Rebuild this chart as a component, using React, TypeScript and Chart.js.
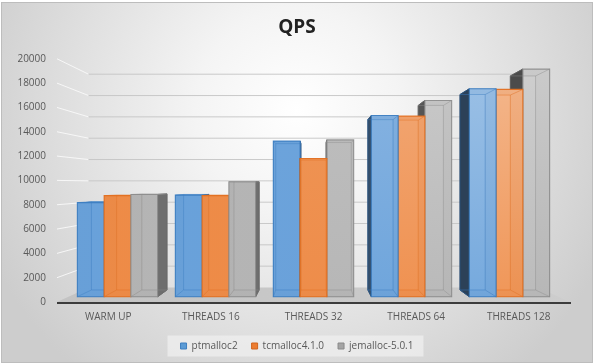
import React, { useEffect, useRef } from 'react';
import { Chart, registerables } from 'chart.js';

Chart.register(...registerables);

// ---------------- data ----------------
const categories = ['WARM UP', 'THREADS 16', 'THREADS 32', 'THREADS 64', 'THREADS 128'];
const seriesNames = ['ptmalloc2', 'tcmalloc4.1.0', 'jemalloc-5.0.1'];
const ptmalloc2 = [8100, 8750, 13400, 15600, 17900];
const tcmalloc = [8700, 8700, 11900, 15550, 17850];
const jemalloc = [8800, 9900, 13500, 16900, 19600];
const yTicks = [0, 2000, 4000, 6000, 8000, 10000, 12000, 14000, 16000, 18000, 20000];
const titleText = 'QPS';

// ---------------- styles ----------------
type RGB = [number, number, number];
const legendColors = ['#5B9BD5', '#ED7D31', '#A5A5A5'];
const legendBorders = ['#3f7fc0', '#d0651e', '#8a8a8a'];
const STYLES: { front: RGB; back: RGB; side: RGB; edge: RGB }[] = [
  { front: [108, 165, 222], back: [86, 138, 194], side: [62, 92, 124], edge: [58, 124, 192] },
  { front: [242, 143, 74], back: [212, 116, 54], side: [186, 96, 38], edge: [226, 110, 30] },
  { front: [184, 184, 184], back: [158, 158, 158], side: [110, 110, 110], edge: [140, 140, 140] },
];
const VX_FRAC = 0.5;
const VY_FRAC = 0.515;
const S_FRONT = 0.955;
const S_BACK = 0.898;
const S_WALL = 0.877;

const mix = (c: RGB, d: RGB, t: number): RGB =>
  [0, 1, 2].map((i) => Math.round(c[i] + (d[i] - c[i]) * t)) as RGB;
const rgba = (c: RGB, a = 1) => `rgba(${c[0]},${c[1]},${c[2]},${a})`;
const WHITE: RGB = [255, 255, 255];
const BLACK: RGB = [0, 0, 0];

type Pt = [number, number];
function poly(ctx: CanvasRenderingContext2D, pts: Pt[], fill?: string | CanvasGradient, stroke?: string, lw = 1) {
  ctx.beginPath();
  ctx.moveTo(pts[0][0], pts[0][1]);
  for (let i = 1; i < pts.length; i++) ctx.lineTo(pts[i][0], pts[i][1]);
  ctx.closePath();
  if (fill) {
    ctx.fillStyle = fill as any;
    ctx.fill();
  }
  if (stroke) {
    ctx.strokeStyle = stroke;
    ctx.lineWidth = lw;
    ctx.stroke();
  }
}
function line(ctx: CanvasRenderingContext2D, a: Pt, b: Pt, stroke: string, lw = 1) {
  ctx.beginPath();
  ctx.moveTo(a[0], a[1]);
  ctx.lineTo(b[0], b[1]);
  ctx.strokeStyle = stroke;
  ctx.lineWidth = lw;
  ctx.stroke();
}

const threeD = {
  id: 'threeD',
  beforeDraw(chart: any) {
    const ctx: CanvasRenderingContext2D = chart.ctx;
    const W = chart.width;
    const H = chart.height;
    const { left, right, top, bottom } = chart.chartArea;
    const VX = left + (right - left) * VX_FRAC;
    const VY = top + (bottom - top) * VY_FRAC;
    const P = (x: number, y: number, s: number): Pt => [VX + (x - VX) * s, VY + (y - VY) * s];
    ctx.save();
    // background
    ctx.fillStyle = '#ffffff';
    ctx.fillRect(0, 0, W, H);
    const g = ctx.createRadialGradient(W / 2, 110, 0, W / 2, 110, 340);
    g.addColorStop(0, '#ffffff');
    g.addColorStop(0.3, '#f4f4f4');
    g.addColorStop(1, '#cdcdcd');
    ctx.fillStyle = g;
    ctx.fillRect(2, 3, W - 4, H - 5);
    ctx.strokeStyle = '#bdbdbd';
    ctx.lineWidth = 1;
    ctx.strokeRect(1.5, 2.5, W - 3, H - 4);

    // gridlines (left wall + back wall)
    const ys = chart.scales.y;
    yTicks.forEach((v) => {
      if (v === 0) return;
      const yf = ys.getPixelForValue(v);
      const bl = P(left, yf, S_WALL);
      const br = P(right, yf, S_WALL);
      line(ctx, [left, yf], bl, 'rgba(250,250,250,0.9)', 1);
      line(ctx, bl, br, 'rgba(196,196,196,0.9)', 1);
    });

    // floor
    const fl: Pt = [left, bottom];
    const fr: Pt = [right, bottom];
    const bl = P(left, bottom, S_WALL);
    const br = P(right, bottom, S_WALL);
    const fg = ctx.createLinearGradient(left, 0, right, 0);
    fg.addColorStop(0, '#c3c3c3');
    fg.addColorStop(1, '#cdcdcd');
    poly(ctx, [fl, fr, br, bl], fg);
    line(ctx, [left, bottom + 1], [right + 1, bottom + 1], '#3c3c3c', 2);

    // legend background
    const lg = chart.legend;
    if (lg && lg.legendHitBoxes && lg.legendHitBoxes.length) {
      const hb = lg.legendHitBoxes;
      const x0 = hb[0].left - 13;
      const last = hb[hb.length - 1];
      const x1 = last.left + last.width + 10;
      const cy = hb[0].top + hb[0].height / 2;
      ctx.fillStyle = 'rgba(238,238,238,0.8)';
      ctx.fillRect(x0, cy - 10.5, x1 - x0, 21);
    }
    ctx.restore();
  },
  beforeDatasetsDraw(chart: any) {
    const ctx: CanvasRenderingContext2D = chart.ctx;
    const { left, right, top, bottom } = chart.chartArea;
    const VX = left + (right - left) * VX_FRAC;
    const VY = top + (bottom - top) * VY_FRAC;
    const P = (x: number, y: number, s: number): Pt => [VX + (x - VX) * s, VY + (y - VY) * s];
    const bars: any[] = [];
    chart.data.datasets.forEach((_ds: any, di: number) => {
      if (!chart.isDatasetVisible(di)) return;
      const meta = chart.getDatasetMeta(di);
      meta.data.forEach((el: any) => {
        const w = el.width;
        bars.push({ l: el.x - w / 2, r: el.x + w / 2, t: el.y, b: el.base, cx: el.x, di });
      });
    });
    bars.sort((a, b) => Math.abs(b.cx - VX) - Math.abs(a.cx - VX));
    ctx.save();
    ctx.lineJoin = 'miter';
    for (const bar of bars) {
      const st = STYLES[bar.di];
      const { l, r, t, b } = bar;
      const F = { lt: P(l, t, S_FRONT), rt: P(r, t, S_FRONT), rb: P(r, b, S_FRONT), lb: P(l, b, S_FRONT) };
      const B = { lt: P(l, t, S_BACK), rt: P(r, t, S_BACK), rb: P(r, b, S_BACK), lb: P(l, b, S_BACK) };
      const k = Math.max(0, Math.min(1, (bar.cx - VX + 40) / 240));
      const light = 0.38 * k;
      const leftOfV = bar.cx < VX;
      const leftSide: Pt[] = [F.lt, B.lt, B.lb, F.lb];
      const rightSide: Pt[] = [F.rt, B.rt, B.rb, F.rb];
      const topFace: Pt[] = [F.lt, F.rt, B.rt, B.lt];
      const botFace: Pt[] = [F.lb, F.rb, B.rb, B.lb];
      const innerCol = rgba(mix(st.back, BLACK, 0.08));
      // back & inner faces
      poly(ctx, [B.lt, B.rt, B.rb, B.lb], rgba(mix(st.back, WHITE, light * 0.5)));
      poly(ctx, leftOfV ? leftSide : rightSide, innerCol);
      poly(ctx, botFace, innerCol);
      const topOuter = t > VY;
      if (!topOuter) poly(ctx, topFace, innerCol);
      // outer faces
      const sideCol = mix(st.side, BLACK, 0.32 * k);
      poly(ctx, leftOfV ? rightSide : leftSide, rgba(sideCol), rgba(mix(sideCol, BLACK, 0.2)), 1);
      if (topOuter) poly(ctx, topFace, rgba(mix(st.front, WHITE, 0.15)));
      // front face (translucent)
      const fgr = ctx.createLinearGradient(0, F.lt[1], 0, F.lb[1]);
      fgr.addColorStop(0, rgba(mix(st.front, WHITE, light)));
      fgr.addColorStop(1, rgba(mix(st.front, WHITE, light * 0.2)));
      ctx.globalAlpha = 0.86;
      poly(ctx, [F.lt, F.rt, F.rb, F.lb], fgr);
      ctx.globalAlpha = 1;
      // edges
      const edgeSoft = rgba(st.edge, 0.45);
      poly(ctx, [B.lt, B.rt, B.rb, B.lb], undefined, edgeSoft, 1);
      line(ctx, F.lt, B.lt, edgeSoft);
      line(ctx, F.rt, B.rt, edgeSoft);
      line(ctx, F.lb, B.lb, edgeSoft);
      line(ctx, F.rb, B.rb, edgeSoft);
      poly(ctx, [F.lt, F.rt, F.rb, F.lb], undefined, rgba(st.edge, 0.9), 1.1);
    }
    ctx.restore();
    return false;
  },
};

export default function App() {
  const ref = useRef<HTMLCanvasElement>(null);
  useEffect(() => {
    if (!ref.current) return;
    const font = "'Open Sans', 'DejaVu Sans', sans-serif";
    const values = [ptmalloc2, tcmalloc, jemalloc];
    const chart = new Chart(ref.current, {
      type: 'bar',
      data: {
        labels: categories,
        datasets: seriesNames.map((name, i) => ({
          label: name,
          data: values[i],
          backgroundColor: legendColors[i],
          borderColor: legendBorders[i],
          borderWidth: 1,
          categoryPercentage: 0.82,
          barPercentage: 1.0,
        })),
      },
      options: {
        responsive: false,
        devicePixelRatio: 1,
        animation: false,
        events: [],
        layout: { padding: { left: 0, right: 0, top: 0, bottom: 3 } },
        scales: {
          x: {
            grid: { display: false, drawTicks: false },
            border: { display: false },
            ticks: { color: '#595959', font: { family: font, size: 10 }, padding: 9, maxRotation: 0, autoSkip: false },
            afterFit: (s: any) => {
              s.height = 25;
            },
          },
          y: {
            min: 0,
            max: 20000,
            grid: { display: false, drawTicks: false },
            border: { display: false },
            afterBuildTicks: (s: any) => {
              s.ticks = yTicks.map((v) => ({ value: v }));
            },
            ticks: {
              color: '#595959',
              font: { family: font, size: 10 },
              padding: 11,
              callback: (v: any) => String(v),
            },
            afterFit: (s: any) => {
              s.width = 57;
            },
          },
          y2: {
            position: 'right',
            display: true,
            grid: { display: false, drawTicks: false },
            border: { display: false },
            ticks: { display: false },
            afterFit: (s: any) => {
              s.width = 24;
            },
          },
        },
        plugins: {
          title: {
            display: true,
            text: titleText,
            color: '#222222',
            font: { family: font, size: 19, weight: 'bold', lineHeight: 1.2 },
            padding: { top: 16, bottom: 20 },
          },
          legend: {
            display: true,
            position: 'bottom',
            labels: {
              color: '#595959',
              font: { family: font, size: 10 },
              boxWidth: 6,
              boxHeight: 6,
              padding: 14,
            },
          },
          tooltip: { enabled: false },
        },
      } as any,
      plugins: [threeD as any],
    });
    return () => chart.destroy();
  }, []);
  return (
    <div style={{ position: 'fixed', left: 0, top: 0, width: 594, height: 364 }}>
      <canvas ref={ref} width={594} height={364} style={{ display: 'block', width: 594, height: 364 }} />
    </div>
  );
}
